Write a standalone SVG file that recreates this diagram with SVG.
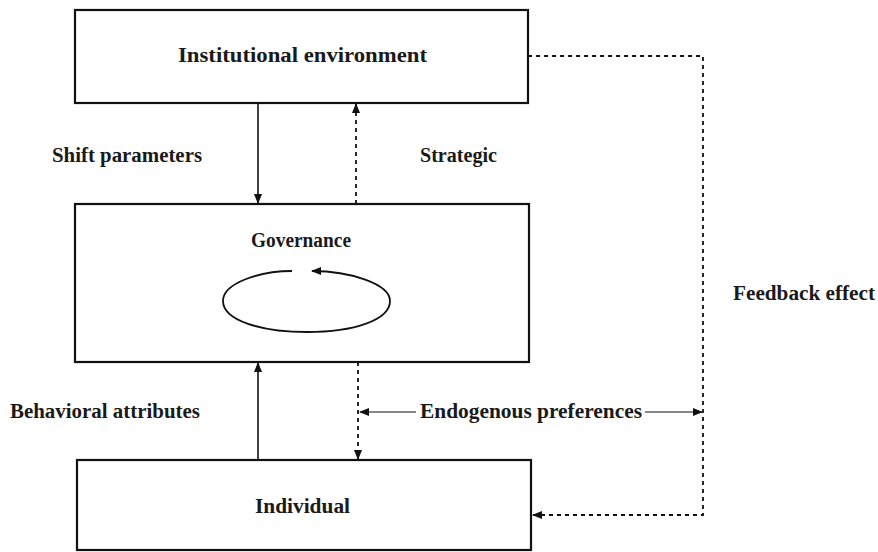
<svg xmlns="http://www.w3.org/2000/svg" width="878" height="552" viewBox="0 0 878 552">
<defs>
<style>
.box{fill:#fff;stroke:#111;stroke-width:2.2}
.t{font-family:"Liberation Serif","Times New Roman",serif;font-weight:bold;font-size:20px;fill:#1a1a1a}
.s{fill:none;stroke:#111;stroke-width:1.6}
.d{fill:none;stroke:#111;stroke-width:1.8;stroke-dasharray:4,4}
.th{fill:none;stroke:#111;stroke-width:1}
</style>
<marker id="ah" markerWidth="10" markerHeight="10" refX="9" refY="5" orient="auto" markerUnits="userSpaceOnUse">
<path d="M0,1 L10,5 L0,9 Z" fill="#111"/>
</marker>
</defs>
<rect width="878" height="552" fill="#fff"/>
<g id="institutional">
<rect class="box" x="75" y="10" width="453" height="93"/>
<text class="t" x="178" y="62" textLength="249" lengthAdjust="spacingAndGlyphs">Institutional environment</text>
</g>
<g id="governance">
<rect class="box" x="75" y="204" width="454" height="158"/>
<text class="t" x="251" y="247" textLength="100" lengthAdjust="spacingAndGlyphs">Governance</text>
<path d="M292,271 C260,271 223,283 223,301 C223,320 260,332 307,332 C354,332 390,320 390,301 C390,284 350,271 312,271" fill="none" stroke="#111" stroke-width="1.8" marker-end="url(#ah)"/>
</g>
<g id="individual">
<rect class="box" x="77" y="460" width="454" height="90"/>
<text class="t" x="255" y="513" textLength="95" lengthAdjust="spacingAndGlyphs">Individual</text>
</g>
<g id="connectors">
<line class="s" x1="258" y1="103" x2="258" y2="203" marker-end="url(#ah)"/>
<line class="d" x1="356" y1="204" x2="356" y2="104" marker-end="url(#ah)"/>
<line class="s" x1="258" y1="460" x2="258" y2="363" marker-end="url(#ah)"/>
<line class="d" x1="358" y1="362" x2="358" y2="459" marker-end="url(#ah)"/>
<polyline class="d" points="528,56 703,56 703,515 533,515" marker-end="url(#ah)"/>
<line class="th" x1="416" y1="412" x2="360" y2="412" marker-end="url(#ah)"/>
<line class="th" x1="645" y1="412" x2="702" y2="412" marker-end="url(#ah)"/>
</g>
<g id="labels">
<text class="t" x="52" y="162" textLength="150" lengthAdjust="spacingAndGlyphs">Shift parameters</text>
<text class="t" x="420" y="162" textLength="77" lengthAdjust="spacingAndGlyphs">Strategic</text>
<text class="t" x="10" y="418" textLength="190" lengthAdjust="spacingAndGlyphs">Behavioral attributes</text>
<text class="t" x="420" y="418" textLength="222" lengthAdjust="spacingAndGlyphs">Endogenous preferences</text>
<text class="t" x="733" y="300" textLength="142" lengthAdjust="spacingAndGlyphs">Feedback effect</text>
</g>
</svg>
